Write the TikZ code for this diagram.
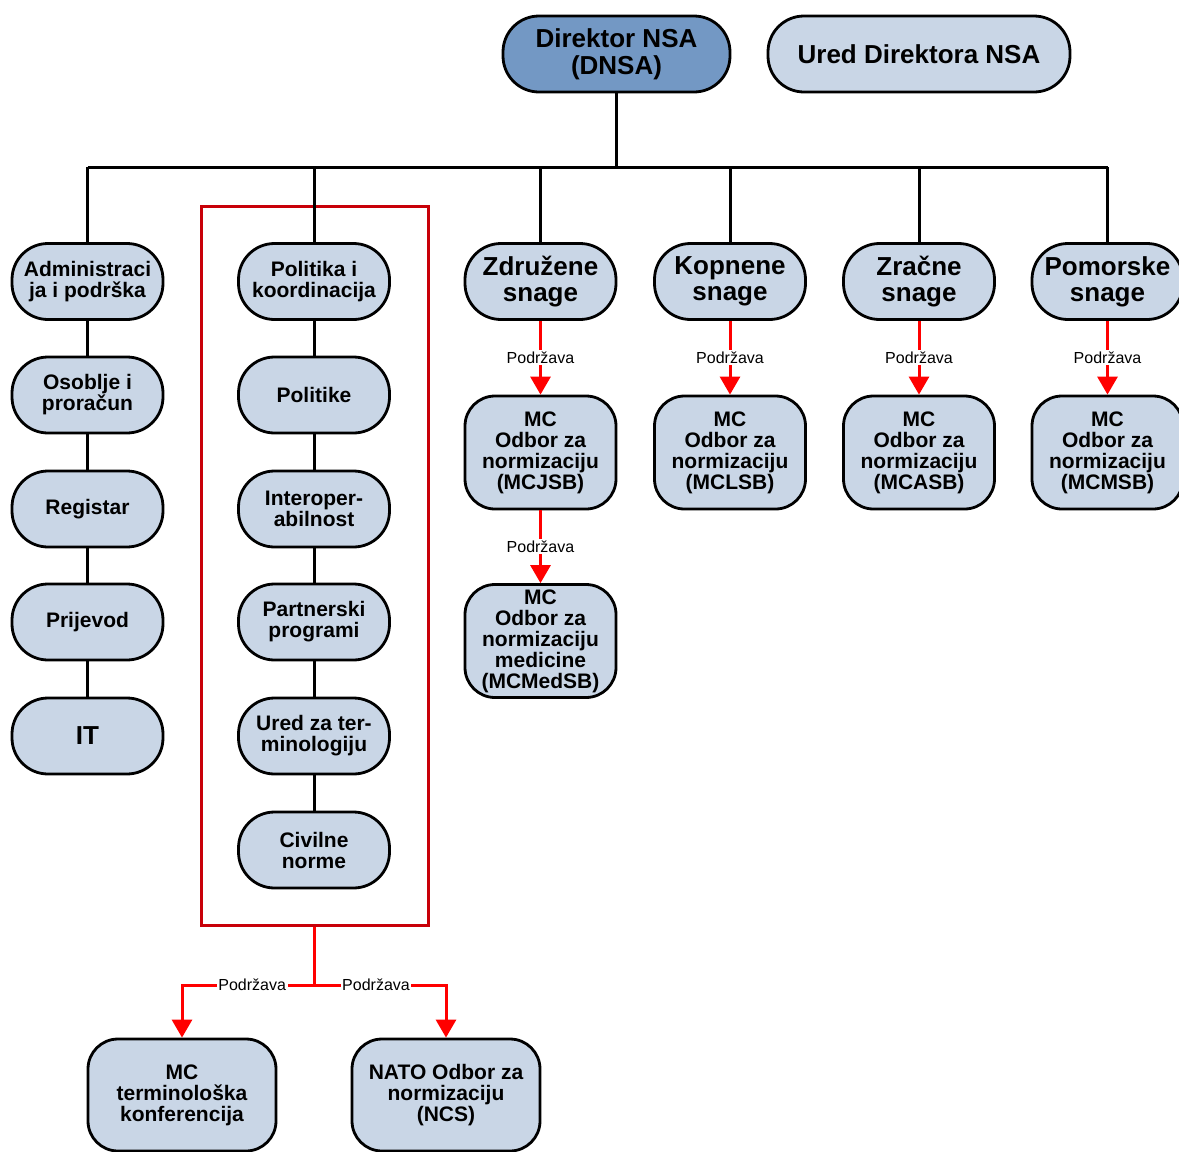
\documentclass[tikz,border=0pt]{standalone}
\usepackage{fontspec}
\setmainfont{Liberation Sans}
\usetikzlibrary{arrows.meta}
\definecolor{boxfill}{HTML}{C9D6E6}
\definecolor{dirfill}{HTML}{7398C4}
\definecolor{framered}{HTML}{C80008}
\definecolor{arrowred}{HTML}{FF0000}
\tikzset{
  unit/.style={draw=black, line width=2.8pt, fill=boxfill, rounded corners=36pt,
    minimum width=151pt, minimum height=76pt, inner sep=0pt, align=center,
    font=\bfseries\fontsize{21}{21}\selectfont},
  bigunit/.style={unit, font=\bfseries\fontsize{26}{26}\selectfont},
  mcunit/.style={unit, minimum height=113pt, rounded corners=30pt},
  botunit/.style={unit, minimum width=188pt, minimum height=112pt, rounded corners=30pt},
  link/.style={draw=black, line width=3pt},
  support/.style={draw=arrowred, line width=3pt, -{Triangle[width=20pt,length=18pt]}},
  lbl/.style={fill=white, inner sep=1.5pt, font=\fontsize{16}{16}\selectfont, text=black},
  redframe/.style={draw=framered, line width=3pt, minimum width=227pt, minimum height=719pt, inner sep=0pt}
}
\begin{document}
\begin{tikzpicture}[x=1pt,y=-1pt]
\useasboundingbox (0,0) rectangle (1179,1152);

% red frame around policy column
\node[redframe] (pfr) at (314.5,565.5) {};

% top
\node[bigunit, fill=dirfill, minimum width=227pt, font=\bfseries\fontsize{26}{27}\selectfont] (dir) at (616.5,54) {Direktor NSA\\(DNSA)};
\node[bigunit, minimum width=302pt] (ured) at (919,54) {Ured Direktora NSA};

% level 2
\node[unit] (adm) at (87.5,281.5) {Administraci\\ja i podrška};
\node[unit] (pol) at (314,281.5) {Politika i\\koordinacija};
\node[bigunit] (zdr) at (540.5,281.5) {Združene\\snage};
\node[bigunit] (kop) at (730,281.5) {Kopnene\\snage};
\node[bigunit] (zra) at (919,281.5) {Zračne\\snage};
\node[bigunit] (pom) at (1107.5,281.5) {Pomorske\\snage};

% left column
\node[unit] (oso) at (87.5,395) {Osoblje i\\proračun};
\node[unit] (reg) at (87.5,509) {Registar};
\node[unit] (pri) at (87.5,622) {Prijevod};
\node[bigunit] (it) at (87.5,736) {IT};

% policy column
\node[unit] (plk) at (314,395) {Politike};
\node[unit] (int) at (314,509) {Interoper-\\abilnost};
\node[unit] (par) at (314,622) {Partnerski\\programi};
\node[unit] (ter) at (314,736) {Ured za ter-\\minologiju};
\node[unit] (civ) at (314,850) {Civilne\\norme};

% MC boards
\node[mcunit] (mcj) at (540.5,452.5) {MC\\Odbor za\\normizaciju\\(MCJSB)};
\node[mcunit] (mcl) at (730,452.5) {MC\\Odbor za\\normizaciju\\(MCLSB)};
\node[mcunit] (mca) at (919,452.5) {MC\\Odbor za\\normizaciju\\(MCASB)};
\node[mcunit] (mcm) at (1107.5,452.5) {MC\\Odbor za\\normizaciju\\(MCMSB)};
\node[mcunit] (mcmed) at (540.5,641) {MC\\Odbor za\\normizaciju\\medicine\\(MCMedSB)};

% bottom
\node[botunit] (mct) at (182,1095) {MC\\terminološka\\konferencija};
\node[botunit] (ncs) at (446,1095) {NATO Odbor za\\normizaciju\\(NCS)};

% bus
\coordinate (busL) at (87.5,167);
\coordinate (busR) at (1107.5,167);
\draw[link] (busL) -- (busR);
\draw[link] (dir.south) -- (dir.south |- busL);
\foreach \n in {adm,pol,zdr,kop,zra,pom}
  \draw[link] (\n.north) -- (\n.north |- busL);

% chains
\draw[link] (adm) -- (oso);
\draw[link] (oso) -- (reg);
\draw[link] (reg) -- (pri);
\draw[link] (pri) -- (it);
\draw[link] (pol) -- (plk);
\draw[link] (plk) -- (int);
\draw[link] (int) -- (par);
\draw[link] (par) -- (ter);
\draw[link] (ter) -- (civ);

% support arrows
\draw[support] (zdr.south) -- node[lbl]{Podržava} (mcj.north);
\draw[support] (kop.south) -- node[lbl]{Podržava} (mcl.north);
\draw[support] (zra.south) -- node[lbl]{Podržava} (mca.north);
\draw[support] (pom.south) -- node[lbl]{Podržava} (mcm.north);
\draw[support] (mcj.south) -- node[lbl]{Podržava} (mcmed.north);

\coordinate (split) at (314.5,985);
\draw[support] (pfr.south) -- (split) -| node[lbl, pos=0.235]{Podržava} (mct.north);
\draw[support] (pfr.south) -- (split) -| node[lbl, pos=0.234]{Podržava} (ncs.north);
\end{tikzpicture}
\end{document}
